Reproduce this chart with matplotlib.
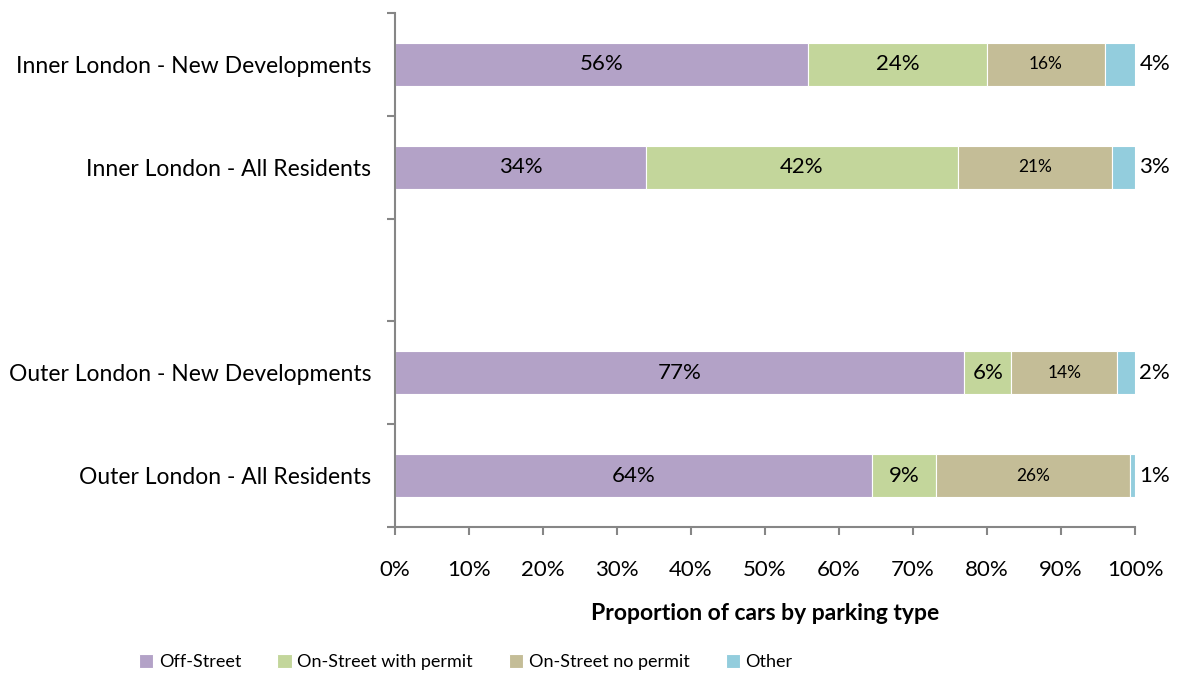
import numpy as np
import matplotlib
matplotlib.use("Agg")
from matplotlib import pyplot as plt
from matplotlib.ticker import MultipleLocator, PercentFormatter

plt.rcParams['font.family'] = ['Lato', 'DejaVu Sans']

categories = ["Inner London - New Developments", "Inner London - All Residents",
              "Outer London - New Developments", "Outer London - All Residents"]
series = ["Off-Street", "On-Street with permit", "On-Street no permit", "Other"]
off_street = [55.8, 33.9, 76.9, 64.4]
with_permit = [24.2, 42.2, 6.4, 8.7]
no_permit = [15.9, 20.8, 14.3, 26.2]
other = [4.1, 3.1, 2.4, 0.7]

colors = ["#B3A2C7", "#C3D69B", "#C4BD97", "#93CDDD"]
grey = "#868686"

fig = plt.figure(figsize=(11.8, 6.73), dpi=100)
ax = fig.add_axes([395/1180, 1-527/673, 740/1180, 514/673])

# four bars in five slots, empty slot between inner and outer london
slots = [0, 1, 3, 4]
ypos = np.array([4.5 - s for s in slots])

left = np.zeros(len(categories))
for name, vals, c in zip(series, [off_street, with_permit, no_permit, other], colors):
    vals = np.array(vals)
    ax.barh(ypos, vals, left=left, height=0.42, color=c, edgecolor="white",
            linewidth=0.8, label=name)
    for y, l, v in zip(ypos, left, vals):
        txt = "%d%%" % int(round(v))
        if name == "Other":
            ax.text(100.6, y, txt, ha="left", va="center", fontsize=16)
        elif name == "On-Street no permit":
            ax.text(l + v/2, y, txt, ha="center", va="center", fontsize=12.5)
        else:
            ax.text(l + v/2, y, txt, ha="center", va="center", fontsize=16)
    left += vals

ax.set_xlim(0, 100)
ax.set_ylim(0, 5)
ax.xaxis.set_major_locator(MultipleLocator(10))
ax.xaxis.set_major_formatter(PercentFormatter(decimals=0))
ax.set_yticks(np.arange(0, 6))
ax.set_yticklabels([])
ax.set_yticks(ypos, minor=True)
ax.set_yticklabels(categories, minor=True, fontsize=16.5)
ax.tick_params(axis="y", which="minor", length=0, pad=17)
ax.tick_params(axis="y", which="major", direction="out", length=6, width=1.5, color=grey)
ax.tick_params(axis="x", direction="out", length=6, width=1.5, color=grey, labelsize=16, pad=18)

for s in ["top", "right"]:
    ax.spines[s].set_visible(False)
for s in ["left", "bottom"]:
    ax.spines[s].set_color(grey)
    ax.spines[s].set_linewidth(1.5)

ax.set_xlabel("Proportion of cars by parking type", fontsize=16.5, fontweight="bold", labelpad=16)

ax.legend(loc="center left", bbox_to_anchor=(139/1180, 1 - 662/673), bbox_transform=fig.transFigure,
          ncol=4, frameon=False, fontsize=13, handlelength=0.8, handleheight=0.8,
          handletextpad=0.3, columnspacing=2.0, borderaxespad=0, borderpad=0)

plt.savefig("out.png", dpi=100)
